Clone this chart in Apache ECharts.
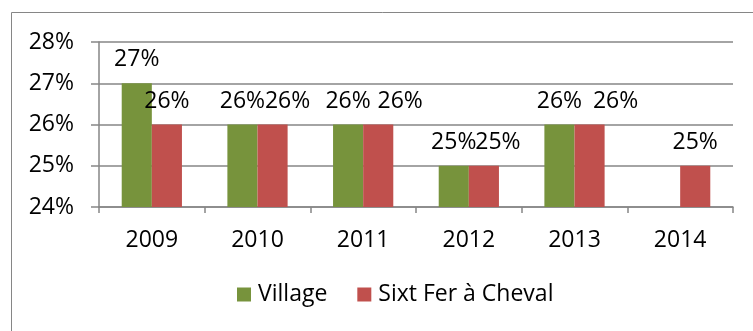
<!DOCTYPE html>
<html>
<head>
<meta charset="utf-8">
<script src="https://cdn.jsdelivr.net/npm/echarts@6/dist/echarts.min.js"></script>
<style>
  html, body { margin: 0; padding: 0; background: #fff; }
  #chart { width: 753px; height: 331px; }
</style>
</head>
<body>
<div id="chart"></div>
<script>
// Share of the vote per year, in percent
const years = ['2009', '2010', '2011', '2012', '2013', '2014'];
const village = [27, 26, 26, 25, 26, null];
const sixt = [26, 26, 26, 25, 26, 25];
const seriesNames = ['Village', 'Sixt Fer à Cheval'];
const yTicks = { min: 24, max: 28, step: 1 };

const FONT = '"Open Sans", sans-serif';
const FONT_SIZE = 23;
const AXIS_GRAY = '#868686';

// Red value labels are nudged right so they do not collide with the green ones
const sixtLabelNudge = [0, 15, 22, 14, 26, 0];

const chart = echarts.init(document.getElementById('chart'), null, { renderer: 'canvas' });

const labelStyle = {
  show: true,
  position: 'top',
  distance: 12,
  color: '#000',
  fontFamily: FONT,
  fontSize: FONT_SIZE,
  formatter: p => p.value + '%'
};

chart.setOption({
  animation: false,
  backgroundColor: '#fff',
  graphic: [{
    type: 'rect',
    shape: { x: 11.5, y: 12.5, width: 900, height: 500 },
    style: { fill: 'none', stroke: AXIS_GRAY, lineWidth: 1 },
    silent: true
  }],
  grid: { left: 99, top: 42, right: 20, bottom: 124 },
  legend: {
    bottom: 20,
    left: 232,
    itemWidth: 14,
    itemHeight: 14,
    itemGap: 30,
    icon: 'rect',
    textStyle: { fontFamily: FONT, fontSize: FONT_SIZE, color: '#000', padding: [0, 0, 0, 2] },
    data: seriesNames
  },
  xAxis: {
    type: 'category',
    data: years,
    axisLine: { lineStyle: { color: AXIS_GRAY, width: 1.5 } },
    axisTick: { show: true, length: 6, lineStyle: { color: AXIS_GRAY, width: 1.5 } },
    axisLabel: { margin: 22, color: '#000', fontFamily: FONT, fontSize: FONT_SIZE }
  },
  yAxis: {
    type: 'value',
    min: yTicks.min,
    max: yTicks.max,
    interval: yTicks.step,
    axisLine: { show: true, lineStyle: { color: AXIS_GRAY, width: 1.5 } },
    axisTick: { show: true, length: 8, lineStyle: { color: AXIS_GRAY, width: 1.5 } },
    splitLine: { lineStyle: { color: AXIS_GRAY, width: 1.5 } },
    axisLabel: { margin: 25, color: '#000', fontFamily: FONT, fontSize: FONT_SIZE, formatter: '{value}%' }
  },
  series: [
    {
      name: seriesNames[0],
      type: 'bar',
      data: village,
      barGap: '0%',
      barCategoryGap: '43%',
      itemStyle: { color: '#77933C' },
      label: labelStyle
    },
    {
      name: seriesNames[1],
      type: 'bar',
      data: sixt.map((v, i) => ({
        value: v,
        label: { offset: [sixtLabelNudge[i], 0] }
      })),
      itemStyle: { color: '#C0504D' },
      label: labelStyle
    }
  ]
});
</script>
</body>
</html>
